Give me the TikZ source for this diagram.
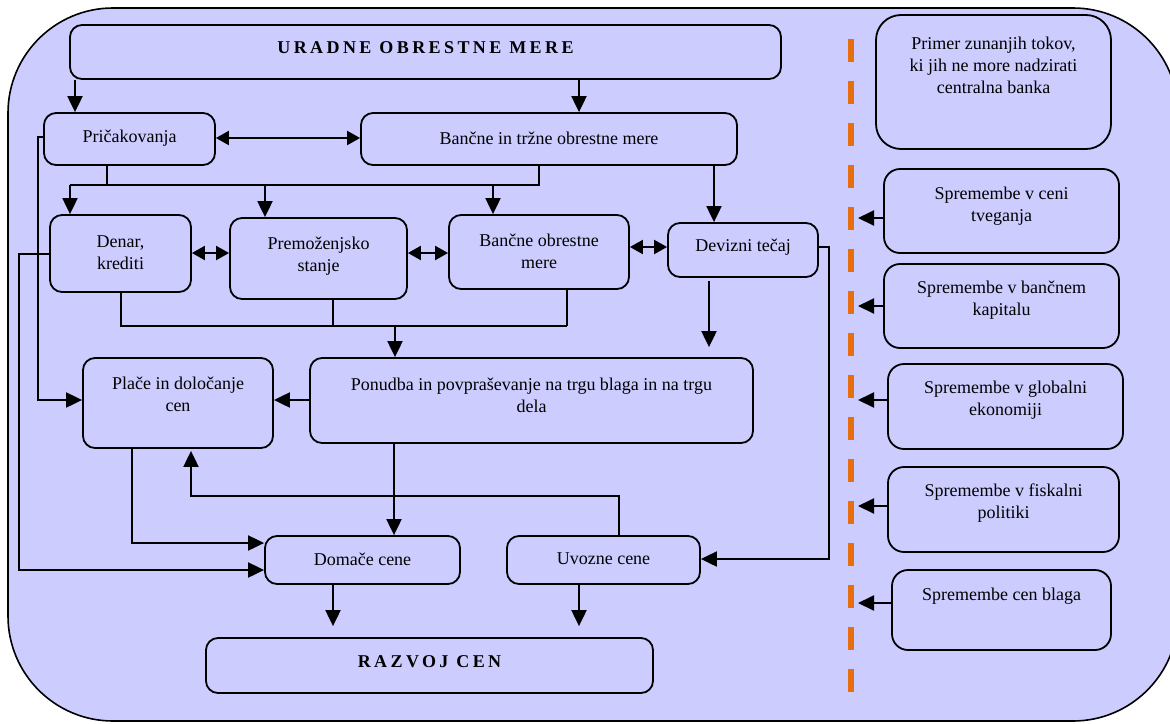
\documentclass[tikz,border=0pt]{standalone}
\usepackage{fontspec}
\setmainfont{Liberation Serif}
\newfontfamily\titlefont[LetterSpace=19]{Liberation Serif}
\usetikzlibrary{arrows.meta,calc}
\definecolor{bg}{RGB}{204,204,255}
\definecolor{dashor}{RGB}{230,110,15}
\tikzset{
  box/.style={draw=black, fill=bg, line width=1.8pt, rounded corners=12pt, inner sep=0pt},
  rbox/.style={box, rounded corners=16pt},
  txt/.style={align=center, inner sep=0pt, font=\fontsize{18}{22}\selectfont},
  ttl/.style={inner sep=0pt, font=\fontsize{18}{22}\selectfont\titlefont\bfseries},
  conn/.style={draw=black, line width=2pt},
  arr/.style={conn, -{Triangle[length=16pt,width=15pt]}},
  darr/.style={conn, {Triangle[length=13pt,width=14pt]}-{Triangle[length=13pt,width=14pt]}},
}
\begin{document}
\begin{tikzpicture}[x=1pt,y=-1pt]
\useasboundingbox (0,0) rectangle (1170,723);
\begin{scope}
\clip (0,0) rectangle (1170,723);
\draw[fill=bg, line width=1.6pt, rounded corners=105pt] (8,8) rectangle (1178,721);
\end{scope}

% main boxes
\node[box, minimum width=711, minimum height=54] (ur) at (425.5,52) {};
\node[ttl] (ur-t) at (425.5,48) {URADNE OBRESTNE MERE};
\node[box, minimum width=171, minimum height=52] (pr) at (129.5,139) {};
\node[txt] (pr-t) at (129.5,138) {Pričakovanja};
\node[box, minimum width=376, minimum height=52] (bt) at (549,139) {};
\node[txt] (bt-t) at (549,138) {Bančne in tržne obrestne mere};

\node[box, minimum width=141, minimum height=77] (de) at (120.5,253.5) {};
\node[txt] (de-t) at (120.5,253) {Denar,\\krediti};
\node[box, minimum width=177, minimum height=81] (pm) at (318.5,258.5) {};
\node[txt] (pm-t) at (318.5,256.5) {Premoženjsko\\stanje};
\node[box, minimum width=180, minimum height=74] (bo) at (539,252) {};
\node[txt] (bo-t) at (539,251) {Bančne obrestne\\mere};
\node[box, minimum width=150, minimum height=54] (dt) at (743,250) {};
\node[txt] (dt-t) at (743,247) {Devizni tečaj};

\node[box, minimum width=443, minimum height=85] (po) at (531.5,400.5) {};
\node[txt] (po-t) at (531.5,395) {Ponudba in povpraševanje na trgu blaga in na trgu\\dela};
\node[box, minimum width=190, minimum height=90] (pc) at (178,403) {};
\node[txt] (pc-t) at (178,394) {Plače in določanje\\cen};

\node[box, minimum width=195, minimum height=48] (dc) at (362.5,560) {};
\node[txt] (dc-t) at (362.5,559) {Domače cene};
\node[box, minimum width=193, minimum height=48] (uc) at (603.5,560) {};
\node[txt] (uc-t) at (603.5,559) {Uvozne cene};

\node[box, minimum width=447, minimum height=55] (rc) at (429.5,665.5) {};
\node[ttl] (rc-t) at (429.5,662) {RAZVOJ CEN};

% right side
\draw[dashor, line width=6pt, dash pattern=on 23pt off 19pt] (851,39) -- (851,692);
\node[box, rounded corners=25pt, minimum width=235, minimum height=134] (p0) at (993.5,82) {};
\node[txt] (p0-t) at (993.5,65) {Primer zunanjih tokov,\\ki jih ne more nadzirati\\centralna banka};
\node[rbox, minimum width=235, minimum height=84] (s1) at (1001.5,211) {};
\node[txt] (s1-t) at (1001.5,206) {Spremembe v ceni\\tveganja};
\node[rbox, minimum width=235, minimum height=84] (s2) at (1001.5,306) {};
\node[txt] (s2-t) at (1001.5,300) {Spremembe v bančnem\\kapitalu};
\node[rbox, minimum width=235, minimum height=85] (s3) at (1005.5,406.5) {};
\node[txt] (s3-t) at (1005.5,400.5) {Spremembe v globalni\\ekonomiji};
\node[rbox, minimum width=231, minimum height=85] (s4) at (1003.5,509.5) {};
\node[txt] (s4-t) at (1003.5,503) {Spremembe v fiskalni\\politiki};
\node[rbox, minimum width=219, minimum height=80] (s5) at (1001.5,610) {};
\node[txt] (s5-t) at (1001.5,596) {Spremembe cen blaga};

\coordinate (e1) at (858,218);
\coordinate (e2) at (858,306);
\coordinate (e3) at (858,400);
\coordinate (e4) at (858,506);
\coordinate (e5) at (858,603);
\draw[arr] (s1.west |- e1) -- (e1);
\draw[arr] (s2.west |- e2) -- (e2);
\draw[arr] (s3.west |- e3) -- (e3);
\draw[arr] (s4.west |- e4) -- (e4);
\draw[arr] (s5.west |- e5) -- (e5);

% connectors
\draw[arr] (75,0 |- ur.south) -- (75,0 |- pr.north);
\draw[arr] (579,0 |- ur.south) -- (579,0 |- bt.north);
\draw[darr] (pr.east |- 0,138) -- (bt.west |- 0,138);

\draw[conn] (107,0 |- pr.south) -- (107,185);
\draw[conn] (539,0 |- bt.south) -- (539,185) -- (70,185);
\draw[arr] (70,185) -- (70,0 |- de.north);
\draw[arr] (265,185) -- (265,0 |- pm.north);
\draw[arr] (493,185) -- (493,0 |- bo.north);
\draw[arr] (714,0 |- bt.south) -- (714,0 |- dt.north);

\draw[darr] (de.east |- 0,253) -- (pm.west |- 0,253);
\draw[darr] (pm.east |- 0,253) -- (bo.west |- 0,253);
\draw[darr] (bo.east |- 0,247) -- (dt.west |- 0,247);

\draw[conn] (121,0 |- de.south) -- (121,326) -- (567,326);
\draw[conn] (333,0 |- pm.south) -- (333,326);
\draw[conn] (567,0 |- bo.south) -- (567,326);
\draw[arr] (395,326) -- (395,0 |- po.north);
\draw[arr, shorten <=3pt, shorten >=10pt] (709,0 |- dt.south) -- (709,0 |- po.north);

\draw[arr] (dt.east |- 0,247) -- (829,247) -- (829,559) -- (uc.east |- 0,559);
\draw[arr] (pr.west |- 0,137) -- (38,137) -- (38,400) -- (pc.west |- 0,400);
\draw[arr] (po.west |- 0,400) -- (pc.east |- 0,400);
\draw[arr] (de.west |- 0,254) -- (19,254) -- (19,570) -- (dc.west |- 0,570);
\draw[arr] (132,0 |- pc.south) -- (132,543) -- (dc.west |- 0,543);
\draw[arr, shorten >=2pt] (619,0 |- uc.north) -- (619,496) -- (191,496) -- (191,0 |- pc.south);
\draw[arr] (394,0 |- po.south) -- (394,0 |- dc.north);
\draw[arr, shorten >=11pt] (333,0 |- dc.south) -- (333,0 |- rc.north);
\draw[arr, shorten >=11pt] (579,0 |- uc.south) -- (579,0 |- rc.north);
\end{tikzpicture}
\end{document}
